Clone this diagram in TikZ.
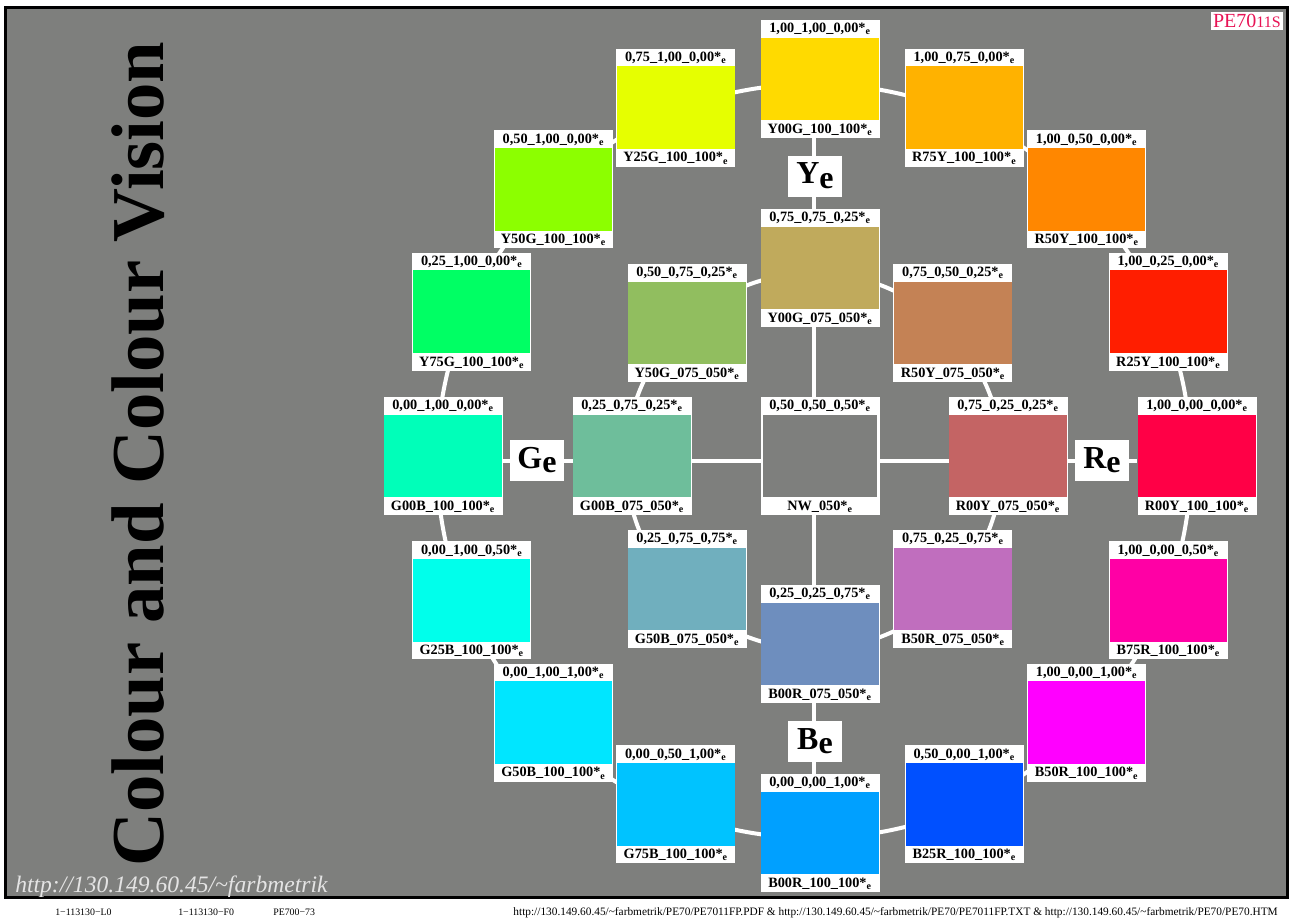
\documentclass[tikz,border=0pt]{standalone}
\usepackage{fontspec}
\setmainfont{Liberation Serif}
\usetikzlibrary{positioning}
\pgfdeclarelayer{bg}
\pgfsetlayers{bg,main}
\definecolor{bgG}{RGB}{126,127,125}
\definecolor{tagRed}{RGB}{232,20,85}
\definecolor{urlG}{RGB}{228,228,228}
% full colours, outer ring
\definecolor{cY00G}{RGB}{255,218,0}
\definecolor{cR75Y}{RGB}{255,178,0}
\definecolor{cR50Y}{RGB}{255,135,0}
\definecolor{cR25Y}{RGB}{255,30,0}
\definecolor{cR00Y}{RGB}{255,0,70}
\definecolor{cB75R}{RGB}{255,0,165}
\definecolor{cB50R}{RGB}{255,0,255}
\definecolor{cB25R}{RGB}{0,80,255}
\definecolor{cB00R}{RGB}{0,160,255}
\definecolor{cG75B}{RGB}{0,195,255}
\definecolor{cG50B}{RGB}{0,230,255}
\definecolor{cG25B}{RGB}{0,255,235}
\definecolor{cG00B}{RGB}{0,255,185}
\definecolor{cY75G}{RGB}{0,255,100}
\definecolor{cY50G}{RGB}{140,255,0}
\definecolor{cY25G}{RGB}{230,255,0}
% reduced colours, inner ring
\definecolor{dY00G}{RGB}{192,170,92}
\definecolor{dR50Y}{RGB}{196,130,85}
\definecolor{dR00Y}{RGB}{196,100,100}
\definecolor{dB50R}{RGB}{192,110,190}
\definecolor{dB00R}{RGB}{110,142,190}
\definecolor{dG50B}{RGB}{112,175,190}
\definecolor{dG00B}{RGB}{110,190,155}
\definecolor{dY50G}{RGB}{145,190,95}
\newcommand\subE{\textsubscript{e}}
\newcommand\axE{\raisebox{-3.5pt}{e}}

\begin{document}
\begin{tikzpicture}[x=0.75pt,y=-0.75pt]
  \tikzset{patch/.style={fill=white,minimum width=89.25pt,minimum height=88.5pt,inner sep=0pt},
    plbl/.style={font=\fontsize{10.7}{11}\selectfont\bfseries,inner sep=0pt,anchor=base},
    wline/.style={white,line width=3pt},
    axlbl/.style={fill=white,minimum width=40.5pt,minimum height=30.75pt,inner sep=0pt,font=\fontsize{24}{25}\selectfont\bfseries}}
  \useasboundingbox (0,0) rectangle (1289,918);
  \coordinate (mid) at (820,456);
  \coordinate (axes) at (814,461);
  \begin{pgfonlayer}{bg}
    \draw[line width=2.25pt,fill=bgG] (5.5,7.5) rectangle (1287.5,897);
  \end{pgfonlayer}
  % outer ring
  \foreach \h/\a/\rgb in {Y00G/-90/{1,00\_1,00\_0,00},R75Y/-67.5/{1,00\_0,75\_0,00},R50Y/-45/{1,00\_0,50\_0,00},
      R25Y/-22.5/{1,00\_0,25\_0,00},R00Y/0/{1,00\_0,00\_0,00},B75R/22.5/{1,00\_0,00\_0,50},B50R/45/{1,00\_0,00\_1,00},
      B25R/67.5/{0,50\_0,00\_1,00},B00R/90/{0,00\_0,00\_1,00},G75B/112.5/{0,00\_0,50\_1,00},G50B/135/{0,00\_1,00\_1,00},
      G25B/157.5/{0,00\_1,00\_0,50},G00B/180/{0,00\_1,00\_0,00},Y75G/202.5/{0,25\_1,00\_0,00},Y50G/225/{0,50\_1,00\_0,00},
      Y25G/247.5/{0,75\_1,00\_0,00}} {
    \node[patch] (o\h) at ([shift={(\a:377)}]mid) {};
    \fill[fill=c\h] ([shift={(1,18)}]o\h.north west) rectangle ([shift={(-1,-18)}]o\h.south east);
    \node[plbl] (o\h-t) at ([shift={(0,13)}]o\h.north) {\rgb*\subE};
    \node[plbl] (o\h-b) at ([shift={(0,-5)}]o\h.south) {\h\_100\_100*\subE};
  }
  % inner ring
  \foreach \h/\a/\rgb in {Y00G/-90/{0,75\_0,75\_0,25},R50Y/-45/{0,75\_0,50\_0,25},R00Y/0/{0,75\_0,25\_0,25},
      B50R/45/{0,75\_0,25\_0,75},B00R/90/{0,25\_0,25\_0,75},G50B/135/{0,25\_0,75\_0,75},G00B/180/{0,25\_0,75\_0,25},
      Y50G/225/{0,50\_0,75\_0,25}} {
    \node[patch] (i\h) at ([shift={(\a:188)}]mid) {};
    \fill[fill=d\h] ([shift={(1,18)}]i\h.north west) rectangle ([shift={(-1,-18)}]i\h.south east);
    \node[plbl] (i\h-t) at ([shift={(0,13)}]i\h.north) {\rgb*\subE};
    \node[plbl] (i\h-b) at ([shift={(0,-5)}]i\h.south) {\h\_075\_050*\subE};
  }
  % neutral grey
  \node[patch] (nw) at (mid) {};
  \fill[bgG] ([shift={(3,18)}]nw.north west) rectangle ([shift={(-3,-18)}]nw.south east);
  \node[plbl] (nw-t) at ([shift={(0,13)}]nw.north) {0,50\_0,50\_0,50*\subE};
  \node[plbl] (nw-b) at ([shift={(0,-5)}]nw.south) {NW\_050*\subE};
  % axis labels
  \node[axlbl] (ye) at (815,176) {Y\axE};
  \node[axlbl] (be) at (815,741) {B\axE};
  \node[axlbl] (ge) at (537,460) {G\axE};
  \node[axlbl] (re) at (1102,460) {R\axE};
  \begin{pgfonlayer}{bg}
    \draw[wline] (axes) circle[radius=377];
    \draw[wline] (axes) circle[radius=188];
    \draw[wline] (oG00B.east |- axes) -- (oR00Y.west |- axes);
    \draw[wline] (oY00G.south -| axes) -- (oB00R.north -| axes);
  \end{pgfonlayer}
  % title and margins
  \node[rotate=90,anchor=base,font=\fontsize{56}{60}\selectfont\bfseries] (title) at (163,454) {Colour and Colour Vision};
  \node[anchor=base west,text=urlG,inner sep=0pt,font=\fontsize{17.7}{20}\selectfont\itshape] (home) at (15,892) {http://130.149.60.45/\textasciitilde farbmetrik};
  \node[anchor=north east,fill=white,text=tagRed,inner sep=1.5pt] (tag) at (1283,12) {\fontsize{15}{15}\selectfont PE70\fontsize{12}{12}\selectfont 11S};
  \node[anchor=base west,inner sep=0pt,font=\fontsize{7.4}{8}\selectfont] (l0) at (55,915) {1\textminus 113130\textminus L0};
  \node[anchor=base west,inner sep=0pt,font=\fontsize{7.4}{8}\selectfont] (f0) at (178,915) {1\textminus 113130\textminus F0};
  \node[anchor=base west,inner sep=0pt,font=\fontsize{7.4}{8}\selectfont] (pe) at (273,915) {PE700\textminus 73};
  \node[anchor=base east,inner sep=0pt,font=\fontsize{8.5}{9}\selectfont] (links) at (1278,915) {http://130.149.60.45/\textasciitilde farbmetrik/PE70/PE7011FP.PDF \& http://130.149.60.45/\textasciitilde farbmetrik/PE70/PE7011FP.TXT \& http://130.149.60.45/\textasciitilde farbmetrik/PE70/PE70.HTM};
\end{tikzpicture}
\end{document}
